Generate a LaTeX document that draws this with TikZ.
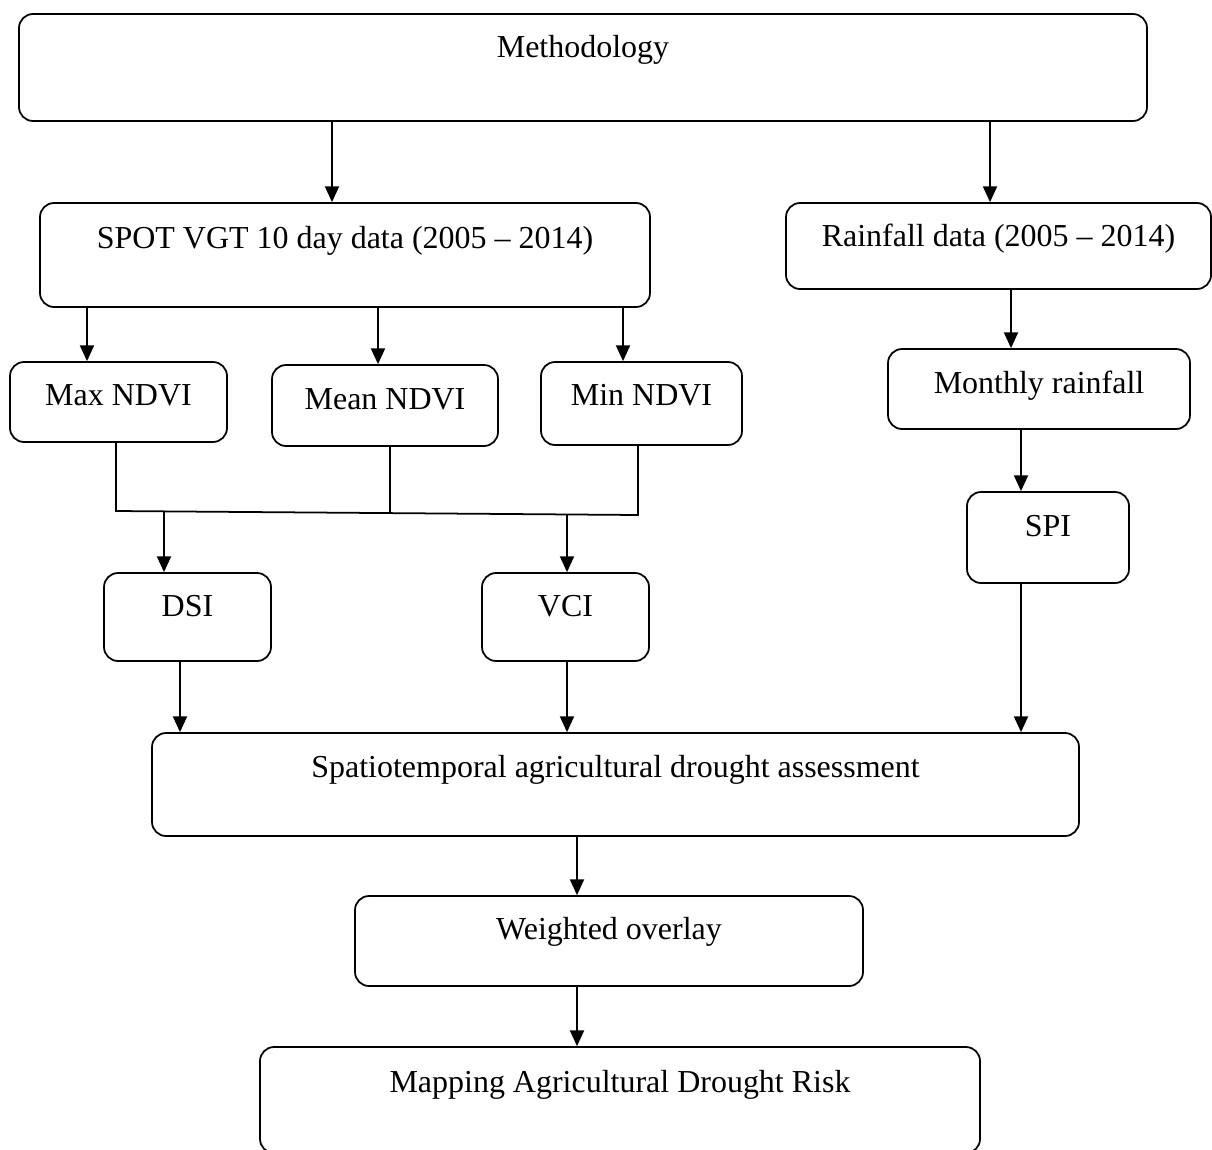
\documentclass[tikz,border=0pt]{standalone}
\usepackage{fontspec}
\setmainfont{Liberation Serif}
\usepackage{tikz}
\usetikzlibrary{arrows.meta, positioning}
\newlength\px
\setlength\px{0.02cm}
\tikzset{
  box/.style={draw, line width=1pt, rounded corners=8pt, inner sep=0pt, anchor=base,
    font=\fontsize{18.2}{22}\selectfont},
  arr/.style={line width=1pt, -{Triangle[length=9pt, width=8pt]}},
  link/.style={line width=1pt}
}

\begin{document}
\begin{tikzpicture}[x=0.02cm, y=-0.02cm]
  \useasboundingbox (0,0) rectangle (1212,1149);

  % Top
  \node[box, minimum width=1128\px, text height=44\px, text depth=63\px] (meth) at (583, 58) {Methodology};

  % Data sources
  \node[box, minimum width=610\px, text height=45\px, text depth=59\px] (spot) at (345, 248) {SPOT VGT 10 day data (2005 -- 2014)};
  \node[box, minimum width=425\px, text height=43\px, text depth=43\px] (rain) at (998.5, 246) {Rainfall data (2005 -- 2014)};

  % NDVI products
  \node[box, minimum width=217\px, text height=43\px, text depth=37\px] (maxn) at (118.5, 405) {Max NDVI};
  \node[box, minimum width=226\px, text height=44\px, text depth=37\px] (meann) at (385, 409) {Mean NDVI};
  \node[box, minimum width=201\px, text height=43\px, text depth=40\px] (minn) at (641.5, 405) {Min NDVI};

  % Rainfall products
  \node[box, minimum width=302\px, text height=44\px, text depth=36\px] (month) at (1039, 393) {Monthly rainfall};
  \node[box, minimum width=162\px, text height=44\px, text depth=47\px] (spi) at (1048, 536) {SPI};

  % Indices
  \node[box, minimum width=167\px, text height=43\px, text depth=45\px] (dsi) at (187.5, 616) {DSI};
  \node[box, minimum width=167\px, text height=43\px, text depth=45\px] (vci) at (565.5, 616) {VCI};

  % Assessment and output
  \node[box, minimum width=927\px, text height=44\px, text depth=59\px] (spat) at (615.5, 777) {Spatiotemporal agricultural drought assessment};
  \node[box, minimum width=508\px, text height=43\px, text depth=47\px] (wov) at (609, 939) {Weighted overlay};
  \node[box, minimum width=720\px, text height=45\px, text depth=61\px] (mapp) at (620, 1092) {Mapping Agricultural Drought Risk};

  % Arrow columns
  \coordinate (xspot) at (332, 0);
  \coordinate (xrain) at (990, 0);
  \coordinate (xmax) at (87, 0);
  \coordinate (xmean) at (378, 0);
  \coordinate (xmin) at (623, 0);
  \coordinate (xmonth) at (1011, 0);
  \coordinate (xspi) at (1021, 0);
  \coordinate (xdsi) at (180, 0);
  \coordinate (xvci) at (567, 0);
  \coordinate (xout) at (577, 0);

  % Junction line
  \coordinate (jl) at (116, 511);
  \coordinate (jm) at (390, 513);
  \coordinate (jr) at (638, 515);
  \coordinate (jd) at (164, 511.4);
  \coordinate (jv) at (567, 514.3);

  \draw[arr] (meth.south -| xspot) -- (spot.north -| xspot);
  \draw[arr] (meth.south -| xrain) -- (rain.north -| xrain);

  \draw[arr] (spot.south -| xmax) -- (maxn.north -| xmax);
  \draw[arr] (spot.south -| xmean) -- (meann.north -| xmean);
  \draw[arr] (spot.south -| xmin) -- (minn.north -| xmin);

  \draw[arr] (rain.south -| xmonth) -- (month.north -| xmonth);
  \draw[arr] (month.south -| xspi) -- (spi.north -| xspi);

  \draw[link] (maxn.south -| jl) -- (jl) -- (jr) -- (minn.south -| jr);
  \draw[link] (meann.south -| jm) -- (jm);
  \draw[arr] (jd) -- (dsi.north -| jd);
  \draw[arr] (jv) -- (vci.north -| jv);

  \draw[arr] (dsi.south -| xdsi) -- (spat.north -| xdsi);
  \draw[arr] (vci.south -| xvci) -- (spat.north -| xvci);
  \draw[arr] (spi.south -| xspi) -- (spat.north -| xspi);

  \draw[arr] (spat.south -| xout) -- (wov.north -| xout);
  \draw[arr] (wov.south -| xout) -- (mapp.north -| xout);
\end{tikzpicture}
\end{document}
